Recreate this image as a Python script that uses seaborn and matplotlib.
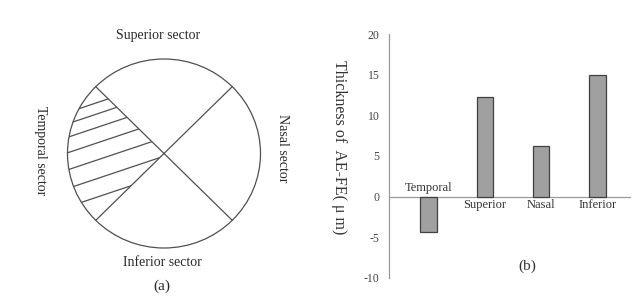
import numpy as np
import matplotlib
matplotlib.use("Agg")
import matplotlib.pyplot as plt
from matplotlib.patches import Ellipse, Polygon
import seaborn as sns
import pandas as pd

# ---- data ----
categories = ["Temporal", "Superior", "Nasal", "Inferior"]
thickness = [-4.4, 12.3, 6.2, 15.0]
yticks = [-10, -5, 0, 5, 10, 15, 20]
sector_labels = ["Superior sector", "Inferior sector", "Temporal sector", "Nasal sector"]
ylabel_text = "Thickness of  AE-FE( \u03bc m)"

sns.set_style("white")
plt.rcParams["font.family"] = ["Liberation Serif", "DejaVu Serif"]

W, H = 642, 302
fig = plt.figure(figsize=(W / 100, H / 100), dpi=100)

# ---------- panel (a): schematic in pixel coordinates ----------
axa = fig.add_axes([0, 0, 1, 1])
axa.set_xlim(0, W)
axa.set_ylim(H, 0)
axa.axis("off")

cx, cy, ra, rb = 164, 153.5, 96.5, 94.5
line_col = "#505050"
axa.add_patch(Ellipse((cx, cy), 2 * ra, 2 * rb, fill=False, ec=line_col, lw=0.9))
dx, dy = ra * np.cos(np.pi / 4), rb * np.sin(np.pi / 4)
axa.plot([cx - dx, cx + dx], [cy - dy, cy + dy], color=line_col, lw=0.9)
axa.plot([cx + dx, cx - dx], [cy - dy, cy + dy], color=line_col, lw=0.9)

# temporal wedge (clip region for hatching)
th = np.linspace(np.pi * 0.75, np.pi * 1.25, 60)
wx = np.concatenate([[cx], cx + ra * np.cos(th)])
wy = np.concatenate([[cy], cy - rb * np.sin(th)])
wedge = Polygon(np.column_stack([wx, wy]), closed=True, fill=False, ec="none",
                transform=axa.transData)
axa.add_patch(wedge)
hatch_offsets = [80.2, 91.5, 105.0, 120.5, 137.6, 156.2, 174.7]
slope = -0.335
xs = np.array([40, 200])
for c in hatch_offsets:
    ln, = axa.plot(xs, c + slope * (xs - cx), color=line_col, lw=0.9)
    ln.set_clip_path(wedge)

txt_col = "#2a2a2a"
axa.text(158, 36, sector_labels[0], ha="center", va="center", fontsize=10, color=txt_col)
axa.text(162.5, 262.5, sector_labels[1], ha="center", va="center", fontsize=10, color=txt_col)
axa.text(40, 151, sector_labels[2], ha="center", va="center", fontsize=10,
         rotation=270, color=txt_col)
axa.text(282.5, 148, sector_labels[3], ha="center", va="center", fontsize=10,
         rotation=270, color=txt_col)
axa.text(162, 286, "(a)", ha="center", va="center", fontsize=11, color=txt_col)

# ---------- panel (b): bar chart ----------
left = 389.3 / W
right = 631 / W
bottom = (H - 277.7) / H
top = (H - 34.3) / H
axb = fig.add_axes([left, bottom, right - left, top - bottom])
axb.patch.set_alpha(0)

df = pd.DataFrame({"sector": categories, "thickness": thickness})
sns.barplot(data=df, x="sector", y="thickness", order=categories, color="#a0a0a0",
            saturation=1, edgecolor="#404040", linewidth=0.9, width=0.29, ax=axb)

axb.set_xlim(-0.696, 3.595)
axb.set_ylim(-10, 20)
axb.set_yticks(yticks)
axb.set_yticklabels([str(t) for t in yticks])
axb.set_xlabel("")
axb.set_ylabel("")
axb.set_xticks([])
for s in ["top", "right", "bottom"]:
    axb.spines[s].set_visible(False)
axb.spines["left"].set_color("#999999")
axb.spines["left"].set_linewidth(0.9)
axb.axhline(0, color="#999999", lw=0.9, zorder=0.5)
axb.tick_params(axis="y", direction="in", length=3, width=0.8, color="#999999",
                labelsize=8.5, labelcolor="#444444", pad=7)

for i, (cat, v) in enumerate(zip(categories, thickness)):
    if v < 0:
        axb.annotate(cat, (i, 0), xytext=(0, 9), textcoords="offset pixels",
                     ha="center", va="center", fontsize=9, color="#333333")
    else:
        axb.annotate(cat, (i, 0), xytext=(0, -8.5), textcoords="offset pixels",
                     ha="center", va="center", fontsize=9, color="#333333")

fig.text(339 / W, (H - 147) / H, ylabel_text, rotation=270, ha="center", va="center",
         fontsize=11.5, color="#333333")
fig.text(527.7 / W, (H - 266.7) / H, "(b)", ha="center", va="center", fontsize=11,
         color="#333333")

fig.savefig("out.png", dpi=100)
